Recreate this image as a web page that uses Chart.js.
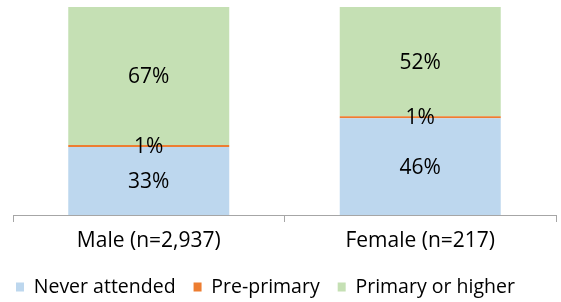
<!DOCTYPE html>
<html>
<head>
<meta charset="utf-8">
<script src="https://cdn.jsdelivr.net/npm/chart.js@4/dist/chart.umd.min.js"></script>
<style>
  html, body { margin: 0; padding: 0; background: #fff; }
  #wrap { width: 561px; height: 302px; position: relative; }
</style>
</head>
<body>
<div id="wrap"><canvas id="c"></canvas></div>
<script>
const categories = ["Male (n=2,937)", "Female (n=217)"];
const seriesNames = ["Never attended", "Pre-primary", "Primary or higher"];
const neverAttended = [33, 46];
const prePrimary = [1, 1];
const primaryOrHigher = [67, 52];

const seriesValues = [neverAttended, prePrimary, primaryOrHigher];
const colors = ["#BDD7EE", "#ED7D31", "#C5E0B4"];

// 100% stacked: normalise each category by its total
const totals = categories.map((_, i) => seriesValues.reduce((s, arr) => s + arr[i], 0));
const datasets = seriesValues.map((arr, k) => ({
  label: seriesNames[k],
  data: arr.map((v, i) => v / totals[i] * 100),
  rawValues: arr,
  backgroundColor: colors[k],
  borderWidth: 0,
  categoryPercentage: 1,
  barPercentage: 0.593
}));

const FONT = "'Open Sans', Lato, sans-serif";
const FS = 21;
const LEG_FS = 19.5;

const labelPlugin = {
  id: 'segLabels',
  afterDatasetsDraw(chart) {
    const ctx = chart.ctx;
    ctx.save();
    ctx.font = FS + "px " + FONT;
    ctx.fillStyle = "#000";
    ctx.textAlign = "center";
    ctx.textBaseline = "middle";
    chart.data.datasets.forEach((ds, di) => {
      const meta = chart.getDatasetMeta(di);
      meta.data.forEach((el, i) => {
        const cy = (el.y + el.base) / 2;
        ctx.fillText(ds.rawValues[i] + "%", el.x, cy + 1);
      });
    });
    ctx.restore();
  }
};

new Chart(document.getElementById('c'), {
  type: 'bar',
  data: { labels: categories, datasets },
  plugins: [labelPlugin],
  options: {
    responsive: true,
    maintainAspectRatio: false,
    animation: false,
    layout: { padding: { top: 7, left: -2, right: 5, bottom: -4.75 } },
    plugins: {
      tooltip: { enabled: false },
      legend: {
        position: 'bottom',
        align: 'start',
        labels: {
          font: { family: FONT, size: LEG_FS },
          color: "#000",
          boxWidth: 8,
          boxHeight: 9,
          padding: 18
        }
      }
    },
    scales: {
      x: {
        stacked: true,
        border: { display: true, color: "#a6a6a6", width: 1 },
        grid: { display: true, drawOnChartArea: false, drawTicks: true, tickLength: 7, color: "#a6a6a6", offset: true },
        ticks: { font: { family: FONT, size: FS }, color: "#000", padding: 6 },
        afterFit(scale) { scale.height = 44.25; }
      },
      y: {
        stacked: true,
        display: true,
        min: 0,
        max: 100,
        grid: { display: false },
        border: { display: false },
        ticks: { display: false },
        afterFit(scale) { scale.width = 15; }
      }
    }
  }
});
</script>
</body>
</html>
